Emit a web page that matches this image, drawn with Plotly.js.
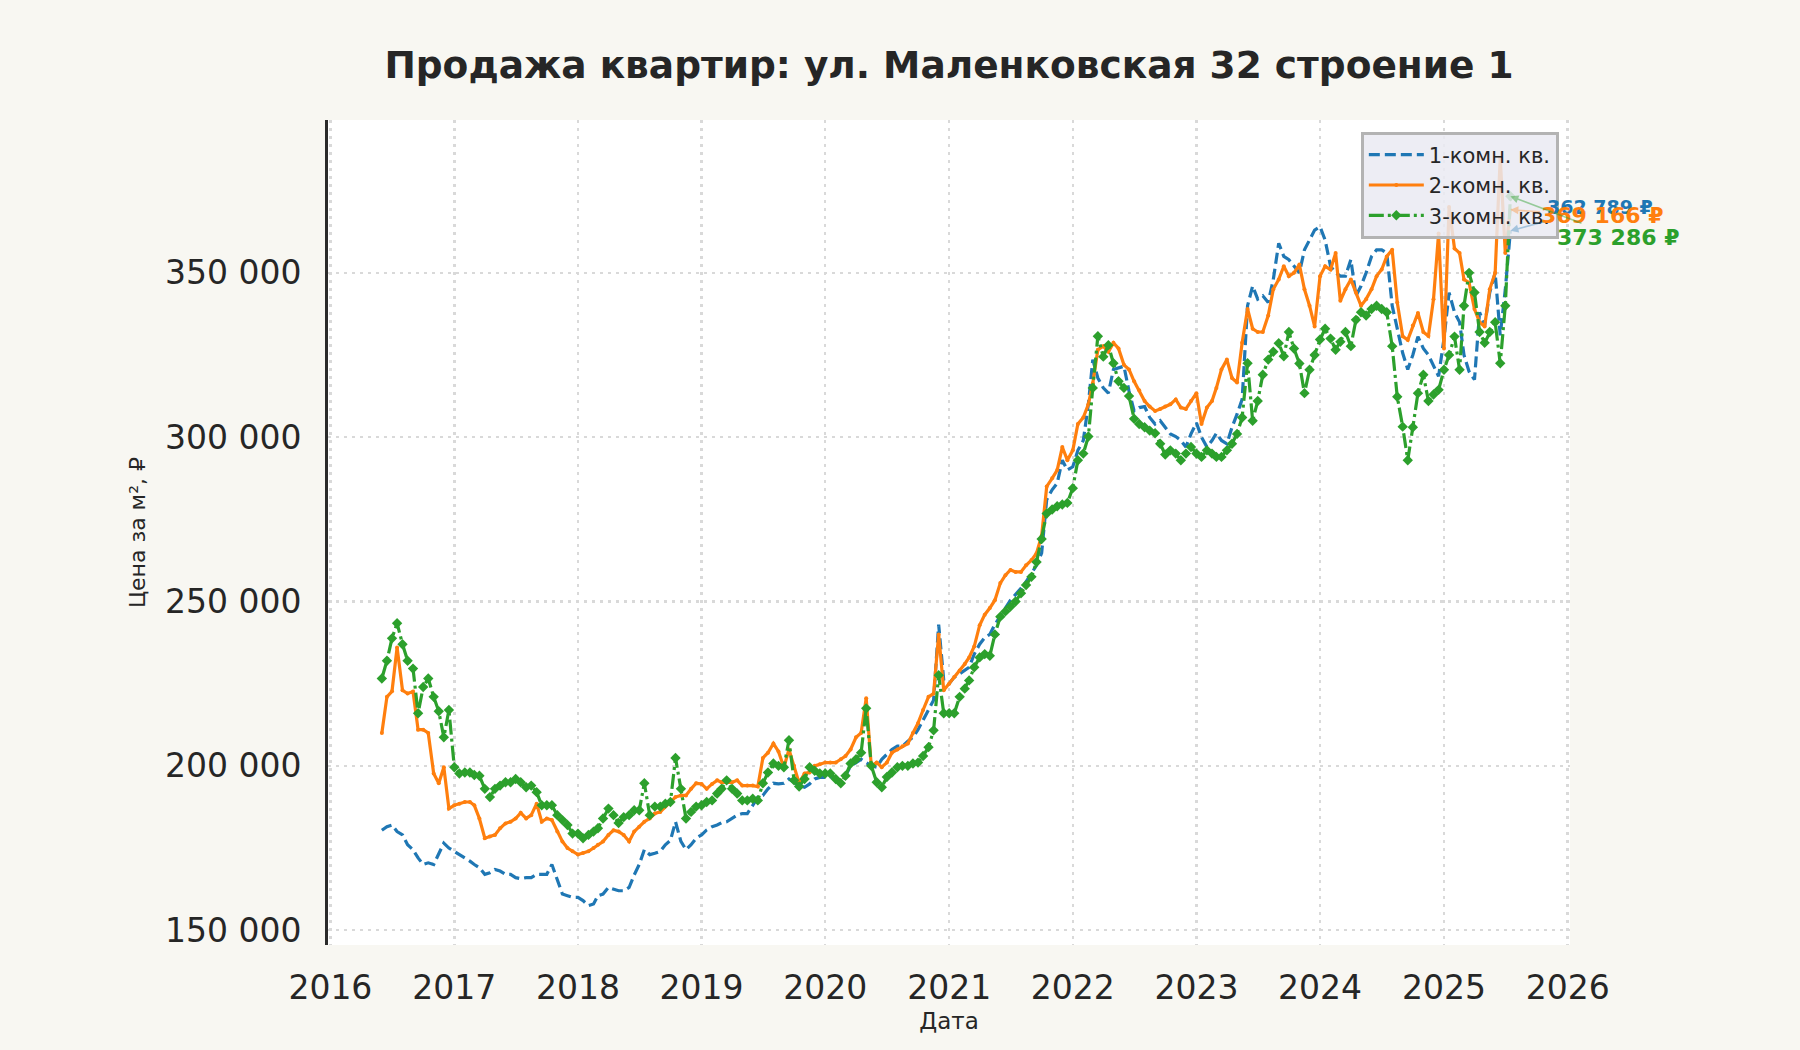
<!DOCTYPE html>
<html>
<head>
<meta charset="utf-8">
<script src="https://cdn.plot.ly/plotly-3.0.1.min.js"></script>
<style>
  html, body { margin: 0; padding: 0; background: #f8f7f2; }
  #chart { width: 1800px; height: 1050px; }
</style>
</head>
<body>
<div id="chart"></div>
<script>
(function() {
  'use strict';

  var TITLE = 'Продажа квартир: ул. Маленковская 32 строение 1';
  var seriesNames = ['1-комн. кв.', '2-комн. кв.', '3-комн. кв.'];
  var endLabels = ['362 789 ₽', '369 166 ₽', '373 286 ₽'];

  // semi-monthly readings (1st and 16th), Jun 2016 .. Jul 2025, thousand ₽ per m²
  var startYear = 2016, startMonth = 6;

  var room1 = [
    180.4, 181.5, 182, 180, 179, 176, 174.5, 172, 170, 170.5, 170, 173, 176.5, 175,
    174, 173, 172, 171, 170, 169, 167, 167.5, 168.5, 168, 167, 167, 166, 165.7, 166, 166, 167, 167, 167, 170, 165.7, 161, 160.5, 160,
    160, 159, 157.5, 158, 160.5, 161, 163, 162.5, 162, 162, 163, 166.8, 170, 174.5, 173, 173.4, 174, 176, 177.3, 183, 177, 174.5, 176, 178,
    179, 180.5, 181.5, 182, 182.7, 183, 184, 185, 185.5, 185.5, 188, 190.5, 191, 193, 194.7, 194.5, 194.7, 196, 195, 194, 193.5, 194.5, 196, 196.5,
    196.5, 196.7, 196, 195.6, 197, 200, 201, 202, 201, 200, 199.6, 202, 203.5, 205, 206, 206, 207.5, 208.7, 211, 214, 217, 220, 243, 226,
    225, 227, 228, 229, 230, 234, 237, 239, 240, 243, 245.4, 248, 250.4, 252, 254, 256, 258.6, 261, 264.7, 281, 284, 286, 293, 290,
    291, 296, 299, 310, 323.6, 318, 315, 313.4, 320.6, 321, 321.6, 314, 308, 309, 309.3, 306, 304, 305, 303, 301, 300.2, 299, 297, 301,
    304.4, 300, 297, 299, 301.2, 299, 298, 303, 307, 311.5, 340, 346, 342, 343, 341, 348, 359, 355, 354, 352, 350, 357, 360, 363,
    364, 360, 352, 350, 349, 349, 354, 343, 346, 350, 355, 357, 357, 356, 340, 332.7, 325.6, 320.6, 325, 330.6, 327, 325, 322, 318.5,
    330, 344, 338, 335, 325, 320, 317.5, 338, 334, 344, 350, 331, 345, 362.789
  ];

  var room2 = [
    210, 221, 222.7, 236, 223, 222, 222.6, 211, 211, 210, 197.7, 194.7, 199.6, 187,
    188, 188.5, 189, 189, 188, 184, 178, 178.5, 179, 181, 182.5, 183, 184, 185.7, 184, 185, 188.5, 183, 184, 183.5, 180, 177, 175, 174,
    173, 173.5, 174, 175, 176, 177, 179, 180.4, 180, 179, 177, 180, 181.5, 183, 184, 185.5, 186, 187.6, 189, 190.5, 191, 191, 193, 194.7,
    194.5, 193, 194.5, 195.6, 195, 195, 195, 195.6, 194, 194, 194, 193.7, 202.4, 204, 206.8, 204.4, 199.5, 205, 200, 194.7, 197.7, 198, 200, 200.5,
    201, 201, 201, 202, 203, 205, 208.7, 210, 220.6, 200, 201, 199.6, 201, 204, 205, 206, 206.8, 210, 213, 217, 221, 222, 240, 223,
    225, 227, 229, 231, 233, 236.3, 242.8, 246, 248, 250.4, 255.6, 258, 259.6, 259, 259, 261, 262.6, 264.7, 270, 285, 287.5, 290, 297, 293,
    296, 304, 306, 310, 316.4, 326.6, 327.7, 326, 328.7, 327, 322, 320.6, 317, 314.3, 311, 309.3, 308, 308.6, 309.3, 310, 311.5, 309, 308.6, 311,
    313.4, 304, 309, 311, 315, 320.6, 323.6, 318, 316.6, 328.7, 339, 333, 332, 332, 337, 345, 348, 352, 349, 350, 352.5, 345, 340, 333.7,
    349, 352, 351, 356, 341.5, 345, 348, 344, 340, 342, 345, 349, 351, 355, 357, 341, 330.7, 329.6, 334, 337.8, 332, 330.8, 342, 362,
    327, 370, 357.4, 356, 348, 347, 339, 335, 333.7, 345, 350, 385, 356, 369.166
  ];

  var room3 = [
    226.6, 232, 238.8, 243.4, 237, 232, 229.6, 216, 224, 226.6, 221, 216.6, 208.7, 217,
    199.6, 197.7, 198, 198, 197.2, 197, 193, 190.5, 193, 194, 195, 195, 196, 195, 193.5, 194, 192, 188, 188, 188, 185, 183.5, 182, 179.4,
    179.4, 178, 179, 180, 181, 184, 187, 185, 182.6, 184.4, 185, 186.5, 186.5, 194.7, 185, 187.6, 187.6, 188.5, 189, 202.4, 193, 184, 186, 187.6,
    188, 189, 189.5, 191.6, 193, 195.6, 193, 191.6, 189.5, 189.5, 190, 189.5, 194.7, 198, 200.7, 200, 199.6, 207.8, 195.6, 193.7, 196, 199.6, 198.5, 197.7,
    197.7, 197.7, 196, 194.7, 197, 200.7, 202, 204, 217.5, 200, 195, 193.5, 196.6, 198, 199.6, 200, 200, 200.7, 201, 203, 205.7, 210.8, 227.6, 216,
    216, 216, 221, 223.5, 226, 230, 233, 234, 233.5, 240, 245.4, 247, 248.5, 250, 252.5, 255, 257.5, 262, 269, 276.8, 278, 279, 279.5, 280,
    284.5, 293, 295, 300.2, 315, 330.7, 324.5, 328, 322.5, 317, 315, 312.5, 305.6, 304, 303, 302, 301.2, 298, 294.7, 296, 295, 293, 295, 297,
    295, 294, 296, 295, 294, 294, 296, 298, 301, 306, 322.5, 305, 311, 319, 323.6, 326, 328.6, 324.6, 332, 327, 322.4, 313.4, 320.5, 325,
    329.7, 333, 330, 326.6, 329, 332, 327.7, 335.7, 338, 337, 339, 340, 339, 338, 327.7, 312.3, 303.2, 293, 303, 313.4, 319, 311, 313, 314.4,
    320.5, 325, 330.6, 320.5, 340, 350, 344, 332, 328.7, 332, 335, 322.5, 340, 373.286
  ];

  var yTicks = [150000, 200000, 250000, 300000, 350000];
  var colors = ['#1f77b4', '#ff7f0e', '#2ca02c'];

  function buildDates(n) {
    var out = [];
    var y = startYear, m = startMonth;
    for (var i = 0; i < n; i++) {
      var day = (i % 2 === 0) ? '01' : '16';
      out.push(y + '-' + (m < 10 ? '0' + m : m) + '-' + day);
      if (i % 2 === 1) {
        m++;
        if (m > 12) { m = 1; y++; }
      }
    }
    return out;
  }

  function toRub(arr) {
    return arr.map(function(v) { return Math.round(v * 1000); });
  }

  var dates = buildDates(room1.length);
  var allSeries = [toRub(room1), toRub(room2), toRub(room3)];

  var styles = [
    { line: { color: colors[0], width: 3.2, dash: '11px,5px' }, mode: 'lines' },
    { line: { color: colors[1], width: 3.2 }, mode: 'lines+markers',
      marker: { symbol: 'circle', size: 4, color: colors[1] } },
    { line: { color: colors[2], width: 3.2, dash: '15px,4px,3px,4px' }, mode: 'lines+markers',
      marker: { symbol: 'diamond', size: 8, color: colors[2] } }
  ];

  var data = allSeries.map(function(ys, i) {
    var t = {
      x: dates, y: ys, type: 'scatter',
      name: seriesNames[i], mode: styles[i].mode, line: styles[i].line
    };
    if (styles[i].marker) t.marker = styles[i].marker;
    return t;
  });

  // end-of-series labels
  var labelOffsets = [[90, -24], [92, 6], [108, 41]];
  var labelSizes = [19, 22, 22];
  var annotations = allSeries.map(function(ys, i) {
    var last = ys.length - 1;
    return {
      x: dates[last], y: ys[last], xref: 'x', yref: 'y',
      ax: labelOffsets[i][0], ay: labelOffsets[i][1],
      text: endLabels[i], showarrow: true,
      arrowhead: 2, arrowsize: 1, arrowwidth: 1.6,
      arrowcolor: i === 2 ? 'rgba(44,160,44,0.45)' : (i === 0 ? 'rgba(31,119,180,0.35)' : 'rgba(255,127,14,0.35)'),
      font: { size: labelSizes[i], color: colors[i], weight: 'bold' }
    };
  });

  var layout = {
    width: 1800, height: 1050,
    paper_bgcolor: '#f8f7f2',
    plot_bgcolor: '#ffffff',
    margin: { l: 328, r: 230, t: 120, b: 105 },
    font: { family: 'DejaVu Sans, sans-serif', color: '#262626', size: 20 },
    separators: ', ',
    title: {
      text: TITLE, x: 0.5, xref: 'paper', xanchor: 'center',
      y: 1 - 65 / 1050, yref: 'container', yanchor: 'middle',
      font: { size: 37.5, weight: 'bold', color: '#262626' }
    },
    xaxis: {
      type: 'date',
      range: ['2015-12-25', '2026-01-08'],
      tick0: '2016-01-01', dtick: 'M12', tickformat: '%Y',
      tickfont: { size: 33 },
      ticks: '', ticklabelstandoff: 20,
      showgrid: true, gridcolor: '#d9d9d9', gridwidth: 2.5, griddash: '3px,5px',
      showline: false, zeroline: false, automargin: false,
      title: { text: 'Дата', font: { size: 23 }, standoff: 6 }
    },
    yaxis: {
      range: [145500, 396500],
      tickvals: yTicks, tickformat: ',d',
      tickfont: { size: 33 },
      ticks: '', ticklabelstandoff: 17,
      showgrid: true, gridcolor: '#d9d9d9', gridwidth: 2.5, griddash: '3px,5px',
      showline: true, linecolor: '#2b2b2b', linewidth: 3,
      zeroline: false, automargin: false,
      title: { text: 'Цена за м², ₽', font: { size: 22 }, standoff: 14 }
    },
    legend: {
      x: 0.991, y: 0.986, xanchor: 'right', yanchor: 'top',
      bgcolor: 'rgba(234,234,242,0.85)', bordercolor: '#b3b3b3', borderwidth: 3,
      font: { size: 21, color: '#262626' },
      itemwidth: 55,
      tracegroupgap: 0
    },
    showlegend: true,
    hovermode: false,
    annotations: annotations
  };

  Plotly.newPlot('chart', data, layout, { displayModeBar: false, staticPlot: true });
})();
</script>
</body>
</html>
